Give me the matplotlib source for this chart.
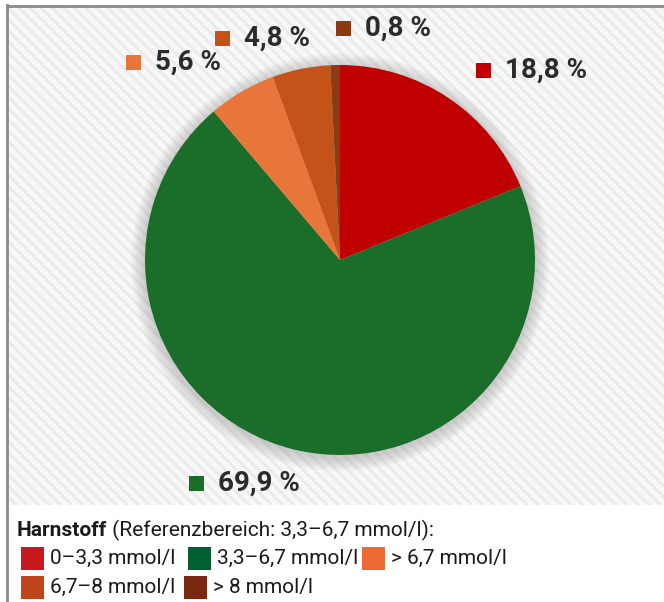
import matplotlib
matplotlib.use("Agg")
import matplotlib.pyplot as plt
from matplotlib.patches import Rectangle, Circle

plt.rcParams["hatch.linewidth"] = 2.0

# ---------- Daten ----------
shares = [18.8, 69.9, 5.6, 4.8, 0.8]
share_labels = ["18,8 %", "69,9 %", "5,6 %", "4,8 %", "0,8 %"]
pie_colors = ["#c00000", "#1b6d2a", "#e8763a", "#c4531a", "#8b3a14"]
legend_names = ["0–3,3 mmol/l", "3,3–6,7 mmol/l", "> 6,7 mmol/l", "6,7–8 mmol/l", "> 8 mmol/l"]
legend_colors = ["#c8191f", "#005f30", "#ee6a35", "#c0451c", "#7a2812"]
title_bold = "Harnstoff"
title_rest = " (Referenzbereich: 3,3–6,7 mmol/l):"

W, H = 664, 602
fig = plt.figure(figsize=(W / 100, H / 100), dpi=100)
fig.patch.set_facecolor("white")

# Hintergrund (Pixelkoordinaten)
bg = fig.add_axes([0, 0, 1, 1])
bg.set_xlim(0, W)
bg.set_ylim(H, 0)
bg.axis("off")
bg.add_patch(Rectangle((8, 6), W - 8, 499, facecolor="#f8f8f8",
                       edgecolor="#eaeaea", hatch="\\\\\\", linewidth=0, zorder=0))
bg.plot([7, 7], [5, H], color="#8a8a8a", lw=2, zorder=2)
bg.plot([7, W], [6, 6], color="#8a8a8a", lw=2, zorder=2)

# Tortendiagramm
cx, cy, r = 340, 260, 195
ax = fig.add_axes([(cx - r * 1.1) / W, (H - cy - r * 1.1) / H, 2.2 * r / W, 2.2 * r / H])
for k in range(12):
    ax.add_patch(Circle((0, -0.012), 1.0 + 0.006 * (k + 1), color="#999999",
                        alpha=0.045, lw=0, zorder=0))
ax.pie(shares, colors=pie_colors, startangle=90, counterclock=False,
       radius=1.0, wedgeprops=dict(linewidth=0))
ax.set_xlim(-1.1, 1.1)
ax.set_ylim(-1.1, 1.1)
ax.set_aspect("equal")
ax.axis("off")

# Beschriftungen der Segmente
label_pos = [(483, 70), (196, 483), (133, 62), (222, 38), (343, 28)]
for (x, y), lab, col in zip(label_pos, share_labels, pie_colors):
    bg.add_patch(Rectangle((x - 7, y - 7), 15, 15, facecolor=col, lw=0, zorder=3))
    bg.text(x + 22, y, lab, fontsize=20, fontweight="bold", family="Roboto",
            color="#2b2b2b", va="center", ha="left", zorder=3)

# Legende
t = bg.text(17, 530, title_bold, fontsize=15, fontweight="bold", family="Roboto",
            color="#1a1a1a", va="center", ha="left")
fig.canvas.draw()
bb = t.get_window_extent()
bg.text(17 + bb.width, 530, title_rest, fontsize=15, family="Roboto",
        color="#1a1a1a", va="center", ha="left")

leg_pos = [(21, 558), (188, 558), (362, 558), (21, 587), (184, 587)]
for (x, y), name, col in zip(leg_pos, legend_names, legend_colors):
    bg.add_patch(Rectangle((x, y - 11.5), 23, 23, facecolor=col, lw=0))
    bg.text(x + 29, y, name, fontsize=15, family="Roboto",
            color="#1a1a1a", va="center", ha="left")

fig.savefig("out.png", dpi=100)
